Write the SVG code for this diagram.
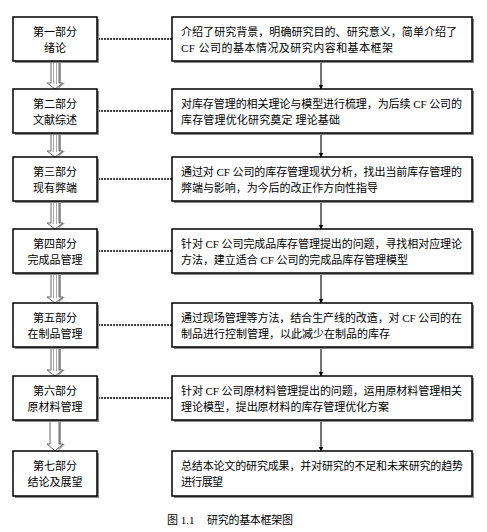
<svg xmlns="http://www.w3.org/2000/svg" width="487" height="532" viewBox="0 0 487 532">
<defs>
<style>
.shadow{fill:#8a8a8a}
.box{fill:#fff;stroke:#000;stroke-width:1.5}
.t{font-family:"Liberation Serif","Noto Sans CJK SC",serif;font-size:11px;fill:#000}
.c{text-anchor:middle}
.dash{stroke:#000;stroke-width:1.6;stroke-dasharray:2 1;fill:none}
.vline{stroke:#444;stroke-width:1.5;fill:none}
.harrow{fill:#fff;stroke:#6a6a6a;stroke-width:1}
.hshadow{fill:#9a9a9a}
</style>
<marker id="ah" viewBox="0 0 10 10" refX="9" refY="5" markerWidth="5" markerHeight="5" orient="auto" markerUnits="userSpaceOnUse">
<path d="M0,0 L10,5 L0,10 z" fill="#000"/>
</marker>
</defs>
<rect width="487" height="532" fill="#fff"/>

<g id="connectors">
<path class="dash" d="M98,39 H172"/>
<path class="dash" d="M98,111 H172"/>
<path class="dash" d="M98,179 H172"/>
<path class="dash" d="M98,251 H172"/>
<path class="dash" d="M98,325 H172"/>
<path class="dash" d="M98,398 H172"/>
<path class="vline" d="M321,61 V89" marker-end="url(#ah)"/>
<path class="vline" d="M321,133 V157" marker-end="url(#ah)"/>
<path class="vline" d="M321,201 V229" marker-end="url(#ah)"/>
<path class="vline" d="M321,273 V303" marker-end="url(#ah)"/>
<path class="vline" d="M321,347 V376" marker-end="url(#ah)"/>
<path class="vline" d="M321,420 V451" marker-end="url(#ah)"/>
<g id="hollow-arrows">
<polygon class="hshadow" points="53,62 61,62 61,83 65,83 57,90 59,90"/>
<polygon class="harrow" points="51,62 59,62 59,83 63,83 55,89 47,83 51,83"/>
<line x1="53.5" y1="62" x2="53.5" y2="84" stroke="#aaa" stroke-width="1"/>
<line x1="56.5" y1="62" x2="56.5" y2="84" stroke="#aaa" stroke-width="1"/>
<polygon class="hshadow" points="53,134 61,134 61,151 65,151 57,158 59,158"/>
<polygon class="harrow" points="51,134 59,134 59,151 63,151 55,157 47,151 51,151"/>
<line x1="53.5" y1="134" x2="53.5" y2="152" stroke="#aaa" stroke-width="1"/>
<line x1="56.5" y1="134" x2="56.5" y2="152" stroke="#aaa" stroke-width="1"/>
<polygon class="hshadow" points="53,202 61,202 61,223 65,223 57,230 59,230"/>
<polygon class="harrow" points="51,202 59,202 59,223 63,223 55,229 47,223 51,223"/>
<line x1="53.5" y1="202" x2="53.5" y2="224" stroke="#aaa" stroke-width="1"/>
<line x1="56.5" y1="202" x2="56.5" y2="224" stroke="#aaa" stroke-width="1"/>
<polygon class="hshadow" points="53,274 61,274 61,297 65,297 57,304 59,304"/>
<polygon class="harrow" points="51,274 59,274 59,297 63,297 55,303 47,297 51,297"/>
<line x1="53.5" y1="274" x2="53.5" y2="298" stroke="#aaa" stroke-width="1"/>
<line x1="56.5" y1="274" x2="56.5" y2="298" stroke="#aaa" stroke-width="1"/>
<polygon class="hshadow" points="53,348 61,348 61,370 65,370 57,377 59,377"/>
<polygon class="harrow" points="51,348 59,348 59,370 63,370 55,376 47,370 51,370"/>
<line x1="53.5" y1="348" x2="53.5" y2="371" stroke="#aaa" stroke-width="1"/>
<line x1="56.5" y1="348" x2="56.5" y2="371" stroke="#aaa" stroke-width="1"/>
<polygon class="hshadow" points="53,421 61,421 61,444 65,444 57,452 59,452"/>
<polygon class="harrow" points="50,421 59,421 59,444 63,444 55,451 47,444 50,444"/>
</g>
</g>

<g id="n1">
<rect class="shadow" x="15" y="19" width="84" height="44"/>
<rect class="box" x="13" y="17" width="84" height="44"/>
<text class="t c" x="55" y="36">第一部分</text>
<text class="t c" x="55" y="52">绪论</text>
</g>
<g id="d1">
<rect class="shadow" x="174" y="19" width="300" height="44"/>
<rect class="box" x="172" y="17" width="300" height="44"/>
<text class="t" x="181" y="36" textLength="276" lengthAdjust="spacing">介绍了研究背景，明确研究目的、研究意义，简单介绍了</text>
<text class="t" x="181" y="52" textLength="212" lengthAdjust="spacing">CF 公司的基本情况及研究内容和基本框架</text>
</g>

<g id="n2">
<rect class="shadow" x="15" y="91" width="84" height="44"/>
<rect class="box" x="13" y="89" width="84" height="44"/>
<text class="t c" x="55" y="108">第二部分</text>
<text class="t c" x="55" y="124">文献综述</text>
</g>
<g id="d2">
<rect class="shadow" x="174" y="91" width="300" height="44"/>
<rect class="box" x="172" y="89" width="300" height="44"/>
<text class="t" x="181" y="108" textLength="281" lengthAdjust="spacing">对库存管理的相关理论与模型进行梳理，为后续 CF 公司的</text>
<text class="t" x="181" y="124" textLength="159" lengthAdjust="spacing">库存管理优化研究奠定 理论基础</text>
</g>

<g id="n3">
<rect class="shadow" x="15" y="159" width="84" height="44"/>
<rect class="box" x="13" y="157" width="84" height="44"/>
<text class="t c" x="55" y="176">第三部分</text>
<text class="t c" x="55" y="192">现有弊端</text>
</g>
<g id="d3">
<rect class="shadow" x="174" y="159" width="300" height="44"/>
<rect class="box" x="172" y="157" width="300" height="44"/>
<text class="t" x="181" y="176" textLength="281" lengthAdjust="spacing">通过对 CF 公司的库存管理现状分析，找出当前库存管理的</text>
<text class="t" x="181" y="192" textLength="197" lengthAdjust="spacing">弊端与影响，为今后的改正作方向性指导</text>
</g>

<g id="n4">
<rect class="shadow" x="15" y="231" width="84" height="44"/>
<rect class="box" x="13" y="229" width="84" height="44"/>
<text class="t c" x="55" y="248">第四部分</text>
<text class="t c" x="55" y="264">完成品管理</text>
</g>
<g id="d4">
<rect class="shadow" x="174" y="231" width="300" height="44"/>
<rect class="box" x="172" y="229" width="300" height="44"/>
<text class="t" x="181" y="248" textLength="281" lengthAdjust="spacing">针对 CF 公司完成品库存管理提出的问题，寻找相对应理论</text>
<text class="t" x="181" y="264" textLength="227" lengthAdjust="spacing">方法，建立适合 CF 公司的完成品库存管理模型</text>
</g>

<g id="n5">
<rect class="shadow" x="15" y="305" width="84" height="44"/>
<rect class="box" x="13" y="303" width="84" height="44"/>
<text class="t c" x="55" y="322">第五部分</text>
<text class="t c" x="55" y="338">在制品管理</text>
</g>
<g id="d5">
<rect class="shadow" x="174" y="305" width="300" height="44"/>
<rect class="box" x="172" y="303" width="300" height="44"/>
<text class="t" x="181" y="322" textLength="281" lengthAdjust="spacing">通过现场管理等方法，结合生产线的改造，对 CF 公司的在</text>
<text class="t" x="181" y="338" textLength="209" lengthAdjust="spacing">制品进行控制管理，以此减少在制品的库存</text>
</g>

<g id="n6">
<rect class="shadow" x="15" y="378" width="84" height="44"/>
<rect class="box" x="13" y="376" width="84" height="44"/>
<text class="t c" x="55" y="395">第六部分</text>
<text class="t c" x="55" y="411">原材料管理</text>
</g>
<g id="d6">
<rect class="shadow" x="174" y="378" width="300" height="44"/>
<rect class="box" x="172" y="376" width="300" height="44"/>
<text class="t" x="181" y="395" textLength="281" lengthAdjust="spacing">针对 CF 公司原材料管理提出的问题，运用原材料管理相关</text>
<text class="t" x="181" y="411" textLength="208" lengthAdjust="spacing">理论模型，提出原材料的库存管理优化方案</text>
</g>

<g id="n7">
<rect class="shadow" x="15" y="453" width="84" height="45"/>
<rect class="box" x="13" y="451" width="84" height="45"/>
<text class="t c" x="55" y="470">第七部分</text>
<text class="t c" x="55" y="486">结论及展望</text>
</g>
<g id="d7">
<rect class="shadow" x="174" y="453" width="300" height="45"/>
<rect class="box" x="172" y="451" width="300" height="45"/>
<text class="t" x="181" y="470" textLength="282" lengthAdjust="spacing">总结本论文的研究成果，并对研究的不足和未来研究的趋势</text>
<text class="t" x="181" y="486" textLength="42" lengthAdjust="spacing">进行展望</text>
</g>

<text class="t" x="167" y="524">图 1.1</text>
<text class="t" x="207" y="524" textLength="86" lengthAdjust="spacing">研究的基本框架图</text>
</svg>
